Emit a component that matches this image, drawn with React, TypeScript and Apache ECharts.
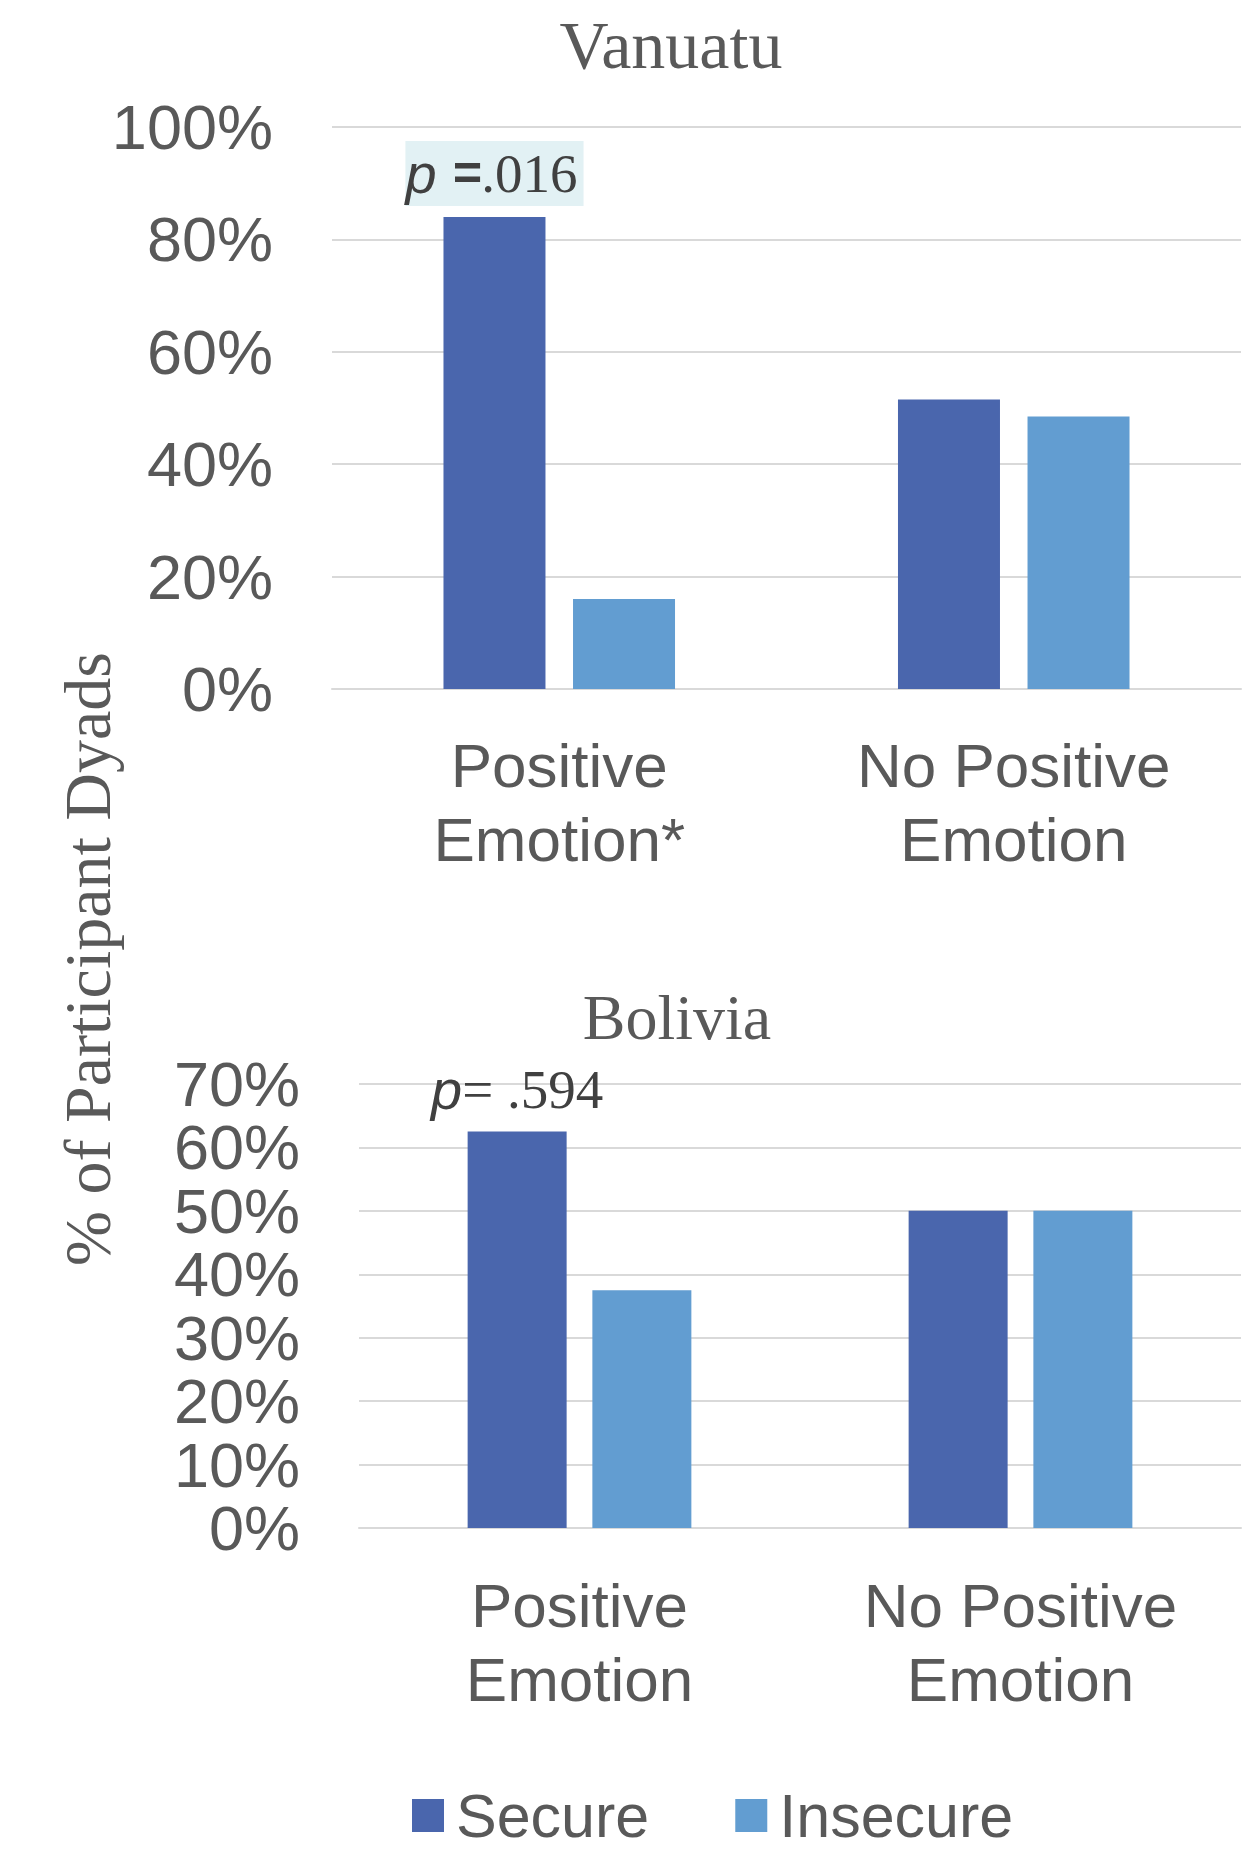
import React, { useEffect, useRef } from "react";
import * as echarts from "echarts";

const seriesNames = ["Secure", "Insecure"];
const vanuatuCategories = ["Positive\nEmotion*", "No Positive\nEmotion"];
const vanuatuSecure = [84, 51.5];
const vanuatuInsecure = [16, 48.5];
const vanuatuTicks = { min: 0, max: 100, interval: 20 };
const boliviaCategories = ["Positive\nEmotion", "No Positive\nEmotion"];
const boliviaSecure = [62.5, 50];
const boliviaInsecure = [37.5, 50];
const boliviaTicks = { min: 0, max: 70, interval: 10 };
const titles = ["Vanuatu", "Bolivia"];
const pVanuatu = ".016";
const pBolivia = "= .594";
const yAxisTitle = "% of Participant Dyads";

const SANS = "'Liberation Sans', Arial, sans-serif";
const SERIF = "'Liberation Serif', 'Times New Roman', serif";
const GREY = "#595959";
const LINE = "#d9d9d9";
const C_SECURE = "#4a66ad";
const C_INSECURE = "#629dd1";

export default function App() {
  const ref = useRef<HTMLDivElement>(null);
  useEffect(() => {
    document.body.style.margin = "0";
    if (!ref.current) return;
    const chart = echarts.init(ref.current, null, { renderer: "svg" });

    const xAxisBase = (cats: string[], gridIndex: number, margin: number) => ({
      type: "category",
      gridIndex,
      data: cats,
      axisTick: { show: false },
      axisLine: { show: true, lineStyle: { color: LINE, width: 2 } },
      axisLabel: {
        color: GREY,
        fontFamily: SANS,
        fontSize: 62,
        lineHeight: 74,
        margin,
      },
    });
    const yAxisBase = (t: { min: number; max: number; interval: number }, gridIndex: number) => ({
      type: "value",
      gridIndex,
      min: t.min,
      max: t.max,
      interval: t.interval,
      axisLine: { show: false },
      axisTick: { show: false },
      splitLine: { show: true, lineStyle: { color: LINE, width: 2 } },
      axisLabel: {
        formatter: "{value}%",
        color: GREY,
        fontFamily: SANS,
        fontSize: 63,
        margin: 59,
      },
    });

    chart.setOption({
      animation: false,
      backgroundColor: "#ffffff",
      grid: [
        { left: 332, top: 127, width: 909, height: 562 },
        { left: 359, top: 1084, width: 882, height: 444 },
      ],
      xAxis: [xAxisBase(vanuatuCategories, 0, 39), xAxisBase(boliviaCategories, 1, 40)],
      yAxis: [yAxisBase(vanuatuTicks, 0), yAxisBase(boliviaTicks, 1)],
      legend: {
        data: seriesNames,
        left: 407,
        top: 1780,
        icon: "rect",
        itemWidth: 32,
        itemHeight: 33,
        itemGap: 86,
        textStyle: {
          color: GREY,
          fontFamily: SANS,
          fontSize: 61,
          lineHeight: 58,
          padding: [0, 0, 0, 7],
        },
      },
      graphic: [
        {
          type: "text",
          x: 671,
          y: 45,
          style: {
            text: titles[0],
            fill: GREY,
            font: `68px ${SERIF}`,
            align: "center",
            verticalAlign: "middle",
          },
        },
        {
          type: "text",
          x: 677,
          y: 1017,
          style: {
            text: titles[1],
            fill: GREY,
            font: `64px ${SERIF}`,
            align: "center",
            verticalAlign: "middle",
          },
        },
        {
          type: "text",
          x: 87,
          y: 959,
          rotation: Math.PI / 2,
          style: {
            text: yAxisTitle,
            fill: GREY,
            font: `66px ${SERIF}`,
            align: "center",
            verticalAlign: "middle",
          },
        },
      ],
      series: [
        {
          name: seriesNames[0],
          type: "bar",
          xAxisIndex: 0,
          yAxisIndex: 0,
          barWidth: 102,
          barGap: "27%",
          itemStyle: { color: C_SECURE },
          data: vanuatuSecure.map((v, i) =>
            i === 0
              ? {
                  value: v,
                  label: {
                    show: true,
                    position: "top",
                    distance: 11,
                    formatter: `{p|p} {eq|=}{n|${pVanuatu}}`,
                    backgroundColor: "#e2f1f4",
                    padding: [4, 6, 4, 0],
                    fontFamily: SANS,
                    fontSize: 56,
                    color: "#404040",
                    rich: {
                      p: { fontFamily: SANS, fontStyle: "italic", fontSize: 56, color: "#404040", lineHeight: 57 },
                      eq: { fontFamily: SANS, fontStyle: "italic", fontWeight: "bold", fontSize: 50, color: "#404040", lineHeight: 57 },
                      n: { fontFamily: SERIF, fontSize: 55, color: "#404040", lineHeight: 57 },
                    },
                  },
                }
              : v
          ),
        },
        {
          name: seriesNames[1],
          type: "bar",
          xAxisIndex: 0,
          yAxisIndex: 0,
          barWidth: 102,
          barGap: "27%",
          itemStyle: { color: C_INSECURE },
          data: vanuatuInsecure,
        },
        {
          name: seriesNames[0],
          type: "bar",
          xAxisIndex: 1,
          yAxisIndex: 1,
          barWidth: 99,
          barGap: "26%",
          itemStyle: { color: C_SECURE },
          data: boliviaSecure.map((v, i) =>
            i === 0
              ? {
                  value: v,
                  label: {
                    show: true,
                    position: "top",
                    distance: 14,
                    formatter: `{p|p}{n|${pBolivia}}`,
                    fontFamily: SERIF,
                    fontSize: 54,
                    color: "#404040",
                    rich: {
                      p: { fontFamily: SANS, fontStyle: "italic", fontSize: 56, color: "#404040", lineHeight: 56 },
                      n: { fontFamily: SERIF, fontSize: 55, color: "#404040", lineHeight: 56 },
                    },
                  },
                }
              : v
          ),
        },
        {
          name: seriesNames[1],
          type: "bar",
          xAxisIndex: 1,
          yAxisIndex: 1,
          barWidth: 99,
          barGap: "26%",
          itemStyle: { color: C_INSECURE },
          data: boliviaInsecure,
        },
      ],
    });
    return () => chart.dispose();
  }, []);
  return <div ref={ref} style={{ width: 1247, height: 1850 }} />;
}
